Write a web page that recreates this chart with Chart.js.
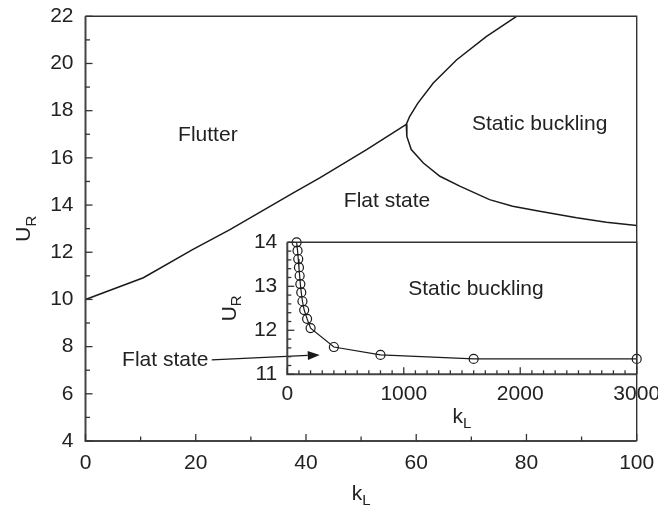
<!DOCTYPE html>
<html lang="en">
<head>
<meta charset="UTF-8">
<title>Stability map</title>
<script src="https://cdn.jsdelivr.net/npm/chart.js"></script>
<style>
  html, body { margin: 0; padding: 0; background: #fff; }
  #wrap { position: relative; width: 658px; height: 508px; }
  #main { position: absolute; left: 0; top: 0; }
  #inset { position: absolute; left: 190px; top: 225px; }
</style>
</head>
<body>
<div id="wrap">
  <canvas id="main" width="658" height="508"></canvas>
  <canvas id="inset" width="468" height="210"></canvas>
</div>
<script>
// main map: flutter boundary (left branch)
const flutterK = [0, 10.5, 19.5, 26.2, 37.7, 42.5, 51.0, 58.2];
const flutterU = [10.0, 10.92, 12.12, 12.96, 14.52, 15.15, 16.35, 17.42];

// static buckling boundary (upper branch down through the junction to the right edge)
const buckleK = [78.2, 72.7, 67.3, 63.1, 60.3, 58.8, 58.2, 58.3, 59.1, 61.3, 64.3, 67.9, 73.3, 77.5, 82.4, 89.1, 94.5, 100];
const buckleU = [22.0, 21.14, 20.15, 19.17, 18.32, 17.75, 17.42, 16.91, 16.35, 15.78, 15.22, 14.8, 14.23, 13.95, 13.74, 13.46, 13.27, 13.13];

// inset: large k_L
const insetK = [80, 88, 94, 100, 106, 112, 120, 130, 145, 170, 200, 400, 800, 1600, 3000];
const insetU = [14.0, 13.81, 13.62, 13.43, 13.24, 13.05, 12.86, 12.66, 12.46, 12.26, 12.05, 11.62, 11.44, 11.35, 11.35];

const FONT = '"Liberation Sans", Arial, Helvetica, sans-serif';
const FS = 21;
const INK = '#222';
const LINE = '#1a1a1a';

const pts = (xs, ys) => xs.map((x, i) => ({ x, y: ys[i] }));

function drawSub(ctx, base, sub, cx, cy, rotate) {
  ctx.save();
  ctx.translate(cx, cy);
  if (rotate) ctx.rotate(-Math.PI / 2);
  ctx.fillStyle = INK;
  ctx.textBaseline = 'middle';
  ctx.textAlign = 'left';
  ctx.font = FS + 'px ' + FONT;
  const w1 = ctx.measureText(base).width;
  ctx.font = '15px ' + FONT;
  const w2 = ctx.measureText(sub).width;
  const x0 = -(w1 + w2) / 2;
  ctx.font = FS + 'px ' + FONT;
  ctx.fillText(base, x0, 0);
  ctx.font = '15px ' + FONT;
  ctx.fillText(sub, x0 + w1, 7);
  ctx.restore();
}

// frame, inward ticks, axis titles and region labels
const framePlugin = {
  id: 'frame',
  afterDraw(chart, args, o) {
    const { ctx, chartArea: a, scales: { x, y } } = chart;
    ctx.save();
    ctx.lineCap = 'butt';
    ctx.strokeStyle = '#333';
    ctx.lineWidth = 1.4;
    ctx.beginPath();
    ctx.moveTo(a.left, a.top); ctx.lineTo(a.right, a.top); ctx.lineTo(a.right, a.bottom);
    ctx.stroke();
    ctx.strokeStyle = '#444';
    ctx.lineWidth = 2;
    ctx.beginPath();
    ctx.moveTo(a.left, a.top); ctx.lineTo(a.left, a.bottom); ctx.lineTo(a.right, a.bottom);
    ctx.stroke();

    ctx.lineWidth = 1.3;
    ctx.strokeStyle = '#333';
    const nx = Math.round((x.max - x.min) / o.xMinor);
    for (let i = 0; i <= nx; i++) {
      const px = x.getPixelForValue(x.min + i * o.xMinor);
      const len = i % o.xRatio === 0 ? o.major : o.minor;
      ctx.beginPath(); ctx.moveTo(px, a.bottom); ctx.lineTo(px, a.bottom - len); ctx.stroke();
    }
    const ny = Math.round((y.max - y.min) / o.yMinor);
    for (let i = 0; i <= ny; i++) {
      const py = y.getPixelForValue(y.min + i * o.yMinor);
      const len = i % o.yRatio === 0 ? o.major : o.minor;
      ctx.beginPath(); ctx.moveTo(a.left, py); ctx.lineTo(a.left + len, py); ctx.stroke();
    }

    drawSub(ctx, 'U', 'R', a.left - o.yTitleGap, (a.top + a.bottom) / 2, true);
    drawSub(ctx, 'k', 'L', (a.left + a.right) / 2, a.bottom + o.xTitleGap, false);

    ctx.fillStyle = INK;
    ctx.font = FS + 'px ' + FONT;
    ctx.textBaseline = 'middle';
    (o.notes || []).forEach(n => {
      ctx.textAlign = n.align || 'center';
      ctx.fillText(n.text, x.getPixelForValue(n.k), y.getPixelForValue(n.u));
    });

    (o.arrows || []).forEach(ar => {
      const x1 = x.getPixelForValue(ar.from[0]), y1 = y.getPixelForValue(ar.from[1]);
      const x2 = x.getPixelForValue(ar.to[0]), y2 = y.getPixelForValue(ar.to[1]);
      const ang = Math.atan2(y2 - y1, x2 - x1);
      const hl = 12, hw = 4.5;
      ctx.strokeStyle = LINE;
      ctx.lineWidth = 1.3;
      ctx.beginPath();
      ctx.moveTo(x1, y1);
      ctx.lineTo(x2 - hl * Math.cos(ang), y2 - hl * Math.sin(ang));
      ctx.stroke();
      ctx.fillStyle = LINE;
      ctx.beginPath();
      ctx.moveTo(x2, y2);
      ctx.lineTo(x2 - hl * Math.cos(ang) + hw * Math.sin(ang), y2 - hl * Math.sin(ang) - hw * Math.cos(ang));
      ctx.lineTo(x2 - hl * Math.cos(ang) - hw * Math.sin(ang), y2 - hl * Math.sin(ang) + hw * Math.cos(ang));
      ctx.closePath();
      ctx.fill();
    });
    ctx.restore();
  }
};

// fixed-size axis boxes, no label overhang padding, so the plot area lands where the figure has it
function axis(min, max, step, pad, size, horizontal) {
  return {
    type: 'linear', min, max,
    grid: { display: false, drawTicks: false },
    border: { display: false },
    ticks: { stepSize: step, padding: pad, color: INK, font: { family: FONT, size: FS }, callback: v => String(v) },
    afterFit: s => {
      if (horizontal) { s.height = size; s.paddingLeft = 0; s.paddingRight = 0; }
      else { s.width = size; s.paddingTop = 0; s.paddingBottom = 0; }
    }
  };
}

const common = {
  responsive: false,
  animation: false,
  events: [],
  plugins: { legend: { display: false }, tooltip: { enabled: false } }
};

new Chart(document.getElementById('main'), {
  type: 'scatter',
  data: {
    datasets: [
      { data: pts(flutterK, flutterU), showLine: true, pointRadius: 0, borderColor: LINE, borderWidth: 1.5, clip: false },
      { data: pts(buckleK, buckleU), showLine: true, pointRadius: 0, borderColor: LINE, borderWidth: 1.5, clip: false }
    ]
  },
  options: {
    ...common,
    layout: { padding: { top: 16.3, right: 21.3, left: 0, bottom: 0 } },
    scales: {
      x: axis(0, 100, 20, 10, 67, true),
      y: axis(4, 22, 2, 12, 85.5, false)
    },
    plugins: {
      ...common.plugins,
      frame: {
        xMinor: 10, xRatio: 2, yMinor: 1, yRatio: 2, major: 7, minor: 4.5,
        yTitleGap: 61, xTitleGap: 53,
        notes: [
          { text: 'Flutter', k: 22.2, u: 16.94 },
          { text: 'Static buckling', k: 82.4, u: 17.44 },
          { text: 'Flat state', k: 54.7, u: 14.16 },
          { text: 'Flat state', k: 22.3, u: 7.42, align: 'right' }
        ],
        arrows: [{ from: [22.9, 7.44], to: [42.5, 7.65] }]
      }
    }
  },
  plugins: [framePlugin]
});

new Chart(document.getElementById('inset'), {
  type: 'scatter',
  data: {
    datasets: [{
      data: pts(insetK, insetU), showLine: true, borderColor: LINE, borderWidth: 1.2,
      pointRadius: 4.5, pointStyle: 'circle', pointBackgroundColor: 'rgba(0,0,0,0)',
      pointBorderColor: LINE, pointBorderWidth: 1.2, clip: false
    }]
  },
  options: {
    ...common,
    layout: { padding: { top: 17.3, right: 21.3, left: 0, bottom: 0 } },
    scales: {
      x: axis(0, 3000, 1000, 7, 60.7, true),
      y: axis(11, 14, 1, 10, 97.3, false)
    },
    plugins: {
      ...common.plugins,
      frame: {
        xMinor: 100, xRatio: 10, yMinor: 0.2, yRatio: 5, major: 7, minor: 4,
        yTitleGap: 57, xTitleGap: 43,
        notes: [{ text: 'Static buckling', k: 1620, u: 12.93 }]
      }
    }
  },
  plugins: [framePlugin]
});
</script>
</body>
</html>
